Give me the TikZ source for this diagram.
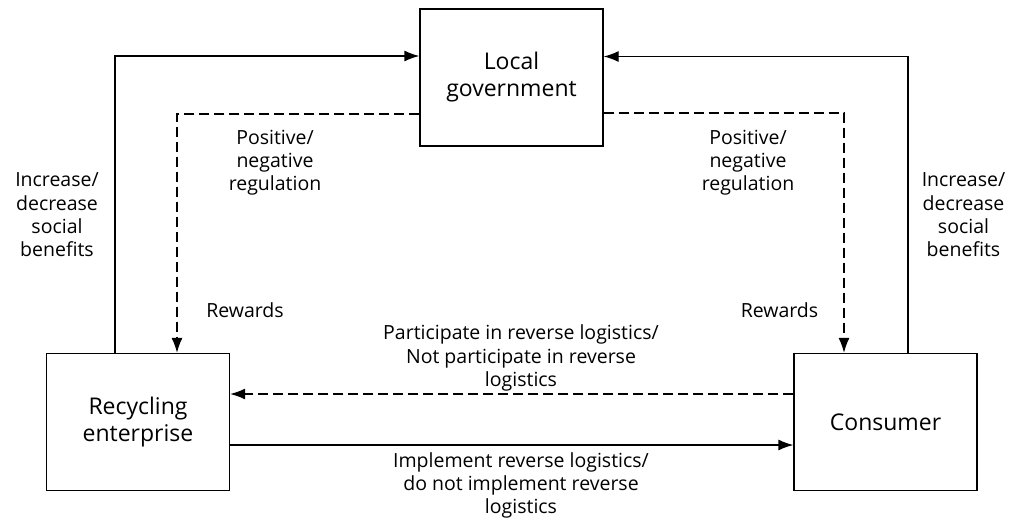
\documentclass[tikz,border=0pt]{standalone}
\usepackage{fontspec}
\setmainfont{Open Sans}
\usetikzlibrary{arrows.meta}

\begin{document}
\begin{tikzpicture}[
  x=1pt,y=-1pt,
  >={Latex[length=15pt,width=11pt]},
  party/.style={draw,line width=1.3pt,minimum width=183pt,minimum height=137pt,
    align=center,font=\fontsize{23}{27}\selectfont},
  note/.style={align=center,font=\fontsize{19.5}{23.3}\selectfont},
  flow/.style={->,line width=1.3pt},
  dflow/.style={->,line width=1.3pt,dash pattern=on 10pt off 5pt}
]
  \useasboundingbox (0,0) rectangle (1021,523);
  % the three players
  \node[party] (gov) at (511.5,77.5) {Local\\government};
  \node[party] (ent) at (138,422) {Recycling\\enterprise};
  \node[party] (cons) at (885.5,422) {Consumer};
  % solid: benefits up to government, logistics to consumer
  \draw[flow] ([xshift=-23pt]ent.north) |- ([yshift=21.5pt]gov.west);
  \draw[flow] ([xshift=22.5pt]cons.north) |- ([yshift=21pt]gov.east);
  \draw[flow] ([yshift=-23pt]ent.east) -- ([yshift=-23pt]cons.west);
  % dashed: regulation down from government, response back to enterprise
  \draw[dflow] ([yshift=-36.5pt]gov.west) -| ([xshift=39pt]ent.north);
  \draw[dflow] ([yshift=-35.5pt]gov.east) -| ([xshift=-41.5pt]cons.north);
  \draw[dflow] ([yshift=28pt]cons.west) -- ([yshift=28pt]ent.east);
  % labels
  \node[note] (benefitsL) at (57,215) {Increase/\\decrease\\social\\benefits};
  \node[note] (benefitsR) at (963.5,215) {Increase/\\decrease\\social\\benefits};
  \node[note] (regL) at (275,162.5) {Positive/\\negative\\regulation};
  \node[note] (regR) at (748,162.5) {Positive/\\negative\\regulation};
  \node[note] (rewardL) at (245,310) {Rewards};
  \node[note] (rewardR) at (779.5,310) {Rewards};
  \node[note] (partic) at (521,358) {Participate in reverse logistics/\\Not participate in reverse\\logistics};
  \node[note] (implem) at (521,485.5) {Implement reverse logistics/\\do not implement reverse\\logistics};
\end{tikzpicture}
\end{document}
